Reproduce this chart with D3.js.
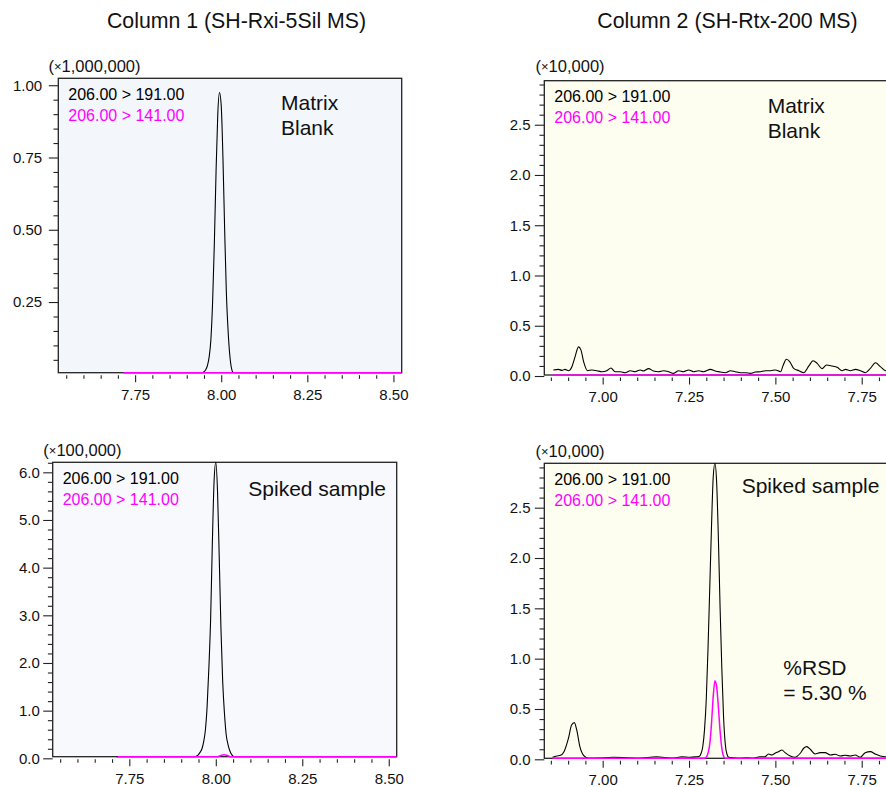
<!DOCTYPE html>
<html><head><meta charset="utf-8">
<script src="https://cdn.jsdelivr.net/npm/d3@7"></script>
<style>
body{margin:0;background:#fff}
svg{display:block}
text{font-family:"Liberation Sans",Arial,Helvetica,sans-serif;fill:#111}
</style>
</head><body>
<svg id="chart" width="886" height="787"></svg>
<script>
// ---------------- DATA ----------------
const columnTitles = ["Column 1 (SH-Rxi-5Sil MS)", "Column 2 (SH-Rtx-200 MS)"];
const transitionLabels = ["206.00 > 191.00", "206.00 > 141.00"];
const multiplierLabels = ["1,000,000", "10,000", "100,000", "10,000"];
const sampleLabels = [["Matrix", "Blank"], ["Matrix", "Blank"], ["Spiked sample"], ["Spiked sample"]];
const rsdLabels = ["%RSD", "= 5.30 %"];

// tick values
const col1XTicks = [7.75, 8.00, 8.25, 8.50];
const col1XMinor = [7.55,7.60,7.65,7.70,7.80,7.85,7.90,7.95,8.05,8.10,8.15,8.20,8.30,8.35,8.40,8.45];
const col2XTicks = [7.00, 7.25, 7.50, 7.75];
const col2XMinor = [6.85,6.90,6.95,7.05,7.10,7.15,7.20,7.30,7.35,7.40,7.45,7.55,7.60,7.65,7.70,7.80];
const blank1YTicks = [0.25, 0.50, 0.75, 1.00];
const blank1YMinor = [0.05,0.10,0.15,0.20,0.30,0.35,0.40,0.45,0.55,0.60,0.65,0.70,0.80,0.85,0.90,0.95];
const spike1YTicks = [0, 1, 2, 3, 4, 5, 6];
const spike1YMinor = [0.2,0.4,0.6,0.8,1.2,1.4,1.6,1.8,2.2,2.4,2.6,2.8,3.2,3.4,3.6,3.8,4.2,4.4,4.6,4.8,5.2,5.4,5.6,5.8,6.2];
const col2YTicks = [0, 0.5, 1.0, 1.5, 2.0, 2.5];
const col2YMinor = [0.1,0.2,0.3,0.4,0.6,0.7,0.8,0.9,1.1,1.2,1.3,1.4,1.6,1.7,1.8,1.9,2.1,2.2,2.3,2.4,2.6,2.7,2.8,2.9];

// traces: [retention time (min), intensity (in axis multiplier units)]
const blank1Q = [[7.716,0.002],[7.80,0.002],[7.90,0.002],[7.935,0.002],[7.940,0.003],[7.945,0.005],[7.950,0.009],[7.955,0.016],[7.960,0.03],[7.965,0.06],[7.970,0.12],[7.975,0.25],[7.980,0.45],[7.985,0.70],[7.990,0.90],[7.995,0.975],[8.000,0.93],[8.005,0.75],[8.010,0.50],[8.015,0.28],[8.020,0.15],[8.025,0.065],[8.030,0.02],[8.035,0.006],[8.040,0.002],[8.10,0.002],[8.30,0.002],[8.524,0.002]];
const blank1R = [[7.716,0.001],[7.90,0.001],[8.00,0.002],[8.10,0.001],[8.30,0.001],[8.524,0.001]];
const spike1Q = [[7.713,0.01],[7.80,0.012],[7.90,0.015],[7.935,0.02],[7.940,0.03],[7.945,0.05],[7.950,0.08],[7.955,0.13],[7.960,0.2],[7.965,0.35],[7.970,0.6],[7.975,1.1],[7.980,1.9],[7.985,2.9],[7.990,4.5],[7.995,5.8],[8.000,6.25],[8.005,5.6],[8.010,4.2],[8.015,2.7],[8.020,1.6],[8.025,0.95],[8.030,0.5],[8.035,0.3],[8.040,0.17],[8.045,0.09],[8.050,0.045],[8.060,0.02],[8.10,0.012],[8.30,0.01],[8.524,0.01]];
const spike1R = [[7.716,0.005],[7.90,0.006],[7.98,0.008],[7.995,0.015],[8.005,0.03],[8.015,0.06],[8.024,0.075],[8.033,0.06],[8.042,0.03],[8.050,0.012],[8.070,0.006],[8.30,0.005],[8.524,0.005]];
const blank2Q = [[6.857,0.06],[6.872,0.066],[6.882,0.056],[6.891,0.066],[6.901,0.053],[6.911,0.093],[6.920,0.19],[6.930,0.29],[6.937,0.26],[6.945,0.14],[6.956,0.053],[6.969,0.06],[6.983,0.053],[6.998,0.043],[7.012,0.053],[7.024,0.08],[7.036,0.043],[7.051,0.043],[7.065,0.033],[7.080,0.053],[7.094,0.043],[7.109,0.06],[7.118,0.05],[7.133,0.073],[7.147,0.05],[7.162,0.043],[7.176,0.053],[7.191,0.043],[7.205,0.026],[7.220,0.053],[7.234,0.043],[7.249,0.06],[7.263,0.043],[7.278,0.053],[7.292,0.043],[7.312,0.066],[7.326,0.05],[7.341,0.04],[7.355,0.033],[7.370,0.053],[7.384,0.043],[7.399,0.033],[7.413,0.033],[7.428,0.026],[7.442,0.04],[7.457,0.043],[7.471,0.053],[7.486,0.053],[7.500,0.06],[7.515,0.043],[7.523,0.11],[7.532,0.166],[7.542,0.14],[7.553,0.076],[7.568,0.053],[7.582,0.033],[7.597,0.10],[7.609,0.152],[7.621,0.126],[7.635,0.073],[7.648,0.11],[7.664,0.10],[7.679,0.086],[7.693,0.053],[7.703,0.066],[7.717,0.053],[7.732,0.066],[7.746,0.053],[7.761,0.033],[7.775,0.076],[7.790,0.132],[7.804,0.093],[7.819,0.053],[7.835,0.05]];
const blank2R = [[6.855,0],[7.10,0],[7.40,0],[7.60,0],[7.835,0]];
const spike2Q = [[6.855,0.02],[6.867,0.033],[6.878,0.04],[6.888,0.076],[6.901,0.21],[6.910,0.34],[6.918,0.364],[6.925,0.29],[6.934,0.126],[6.946,0.033],[6.958,0.01],[6.990,0.012],[7.030,0.02],[7.069,0.016],[7.107,0.01],[7.155,0.026],[7.204,0.01],[7.229,0.026],[7.253,0.02],[7.270,0.025],[7.280,0.03],[7.285,0.06],[7.290,0.13],[7.295,0.3],[7.300,0.6],[7.305,1.1],[7.310,1.7],[7.315,2.3],[7.320,2.8],[7.325,3.05],[7.330,2.75],[7.335,2.2],[7.340,1.5],[7.345,0.9],[7.350,0.42],[7.355,0.15],[7.360,0.05],[7.365,0.02],[7.378,0.016],[7.397,0.01],[7.417,0.016],[7.436,0.01],[7.455,0.026],[7.470,0.026],[7.480,0.053],[7.490,0.043],[7.499,0.06],[7.509,0.076],[7.519,0.093],[7.528,0.066],[7.543,0.033],[7.557,0.02],[7.572,0.06],[7.582,0.11],[7.591,0.126],[7.601,0.10],[7.615,0.053],[7.630,0.066],[7.644,0.066],[7.659,0.043],[7.673,0.05],[7.688,0.033],[7.702,0.04],[7.717,0.033],[7.731,0.043],[7.746,0.02],[7.760,0.066],[7.775,0.076],[7.789,0.053],[7.804,0.033],[7.818,0.026],[7.835,0.03]];
const spike2R = [[6.855,0],[7.100,0],[7.290,0],[7.295,0.005],[7.300,0.02],[7.305,0.06],[7.310,0.15],[7.315,0.35],[7.320,0.62],[7.325,0.78],[7.330,0.72],[7.335,0.52],[7.340,0.28],[7.345,0.11],[7.350,0.03],[7.355,0.008],[7.360,0],[7.600,0],[7.835,0]];

// ---------------- LAYOUT ----------------
const Q_COLOR = "#000000", R_COLOR = "#ff00ff";
const panels = [
  {x0:58.3,x1:401.7,y0:78.3,y1:372.7,xd:[7.527,8.524],yd:[0.0055,1.024],bg:"#f3f6fb",
   xt:col1XTicks,xm:col1XMinor,yt:blank1YTicks,ym:blank1YMinor,yfmt:".2f",ypad:6.6,
   q:blank1Q,r:blank1R,mult:0,multX:48.5,multY:71.7,sample:0,sx:281,sy:110},
  {x0:544.3,x1:889,y0:80.7,y1:375,xd:[6.831,7.829],yd:[0.01,2.938],bg:"#fdfdf0",
   xt:col2XTicks,xm:col2XMinor,yt:col2YTicks,ym:col2YMinor,yfmt:".1f",ypad:4.2,
   q:blank2Q,r:blank2R,mult:1,multX:535.5,multY:71.7,sample:1,sx:767.7,sy:113.3},
  {x0:52.7,x1:396.7,y0:462.3,y1:756.7,xd:[7.5285,8.523],yd:[0.034,6.21],bg:"#f8f9fc",
   xt:col1XTicks,xm:col1XMinor,yt:spike1YTicks,ym:spike1YMinor,yfmt:".1f",ypad:3.4,
   q:spike1Q,r:spike1R,mult:2,multX:43.3,multY:456,sample:2,sx:248.3,sy:495.7},
  {x0:544.3,x1:889,y0:463.3,y1:758.3,xd:[6.831,7.829],yd:[0.01,2.941],bg:"#fefef0",
   xt:col2XTicks,xm:col2XMinor,yt:col2YTicks,ym:col2YMinor,yfmt:".1f",ypad:4.2,
   q:spike2Q,r:spike2R,mult:3,multX:535.5,multY:457,sample:3,sx:741.7,sy:493.3,rsd:true}
];

const svg = d3.select("#chart");

// column titles
svg.selectAll("text.title").data(columnTitles).join("text")
  .attr("class","title")
  .attr("x",(d,i)=> i===0 ? 236.5 : 727.5)
  .attr("y",28)
  .attr("text-anchor","middle")
  .style("font-size","21.3px")
  .text(d=>d);

panels.forEach((p,i)=>{
  const g = svg.append("g");
  const x = d3.scaleLinear().domain(p.xd).range([p.x0,p.x1]);
  const y = d3.scaleLinear().domain(p.yd).range([p.y1,p.y0]).clamp(true);

  // background + frame
  g.append("rect").attr("x",p.x0).attr("y",p.y0).attr("width",p.x1-p.x0).attr("height",p.y1-p.y0)
    .attr("fill",p.bg).attr("stroke","#222").attr("stroke-width",1.3);

  // clip
  const cid = "clip"+i;
  svg.append("clipPath").attr("id",cid).append("rect")
    .attr("x",p.x0).attr("y",p.y0-1).attr("width",p.x1-p.x0).attr("height",p.y1-p.y0+2);

  const line = d3.line().x(d=>x(d[0])).y(d=>y(d[1])).curve(d3.curveMonotoneX);
  const tg = g.append("g").attr("clip-path",`url(#${cid})`);
  tg.append("path").datum(p.q).attr("d",line).attr("fill","none").attr("stroke",Q_COLOR).attr("stroke-width",1.1);
  tg.append("path").datum(p.r).attr("d",line).attr("fill","none").attr("stroke",R_COLOR).attr("stroke-width",1.5);

  // Y axis (major + minor)
  const yAxisScale = d3.scaleLinear().domain(p.yd).range([p.y1,p.y0]);
  const yMajor = g.append("g").attr("transform",`translate(${p.x0},0)`)
    .call(d3.axisLeft(yAxisScale).tickValues(p.yt).tickSize(9.5).tickPadding(p.ypad).tickFormat(d3.format(p.yfmt)));
  const yMinor = g.append("g").attr("transform",`translate(${p.x0},0)`)
    .call(d3.axisLeft(yAxisScale).tickValues(p.ym).tickSize(4.8).tickFormat(""));
  [yMajor,yMinor].forEach(a=>{
    a.select(".domain").remove();
    a.selectAll("line").attr("stroke","#222").attr("stroke-width",1.1);
    a.selectAll("text").style("font-size","15px").attr("fill","#111").style("font-family","'Liberation Sans',Arial,sans-serif");
  });

  // X axis (major + minor)
  const xMajor = g.append("g").attr("transform",`translate(0,${p.y1+2.5})`)
    .call(d3.axisBottom(x).tickValues(p.xt).tickSize(7).tickPadding(6.8).tickFormat(d3.format(".2f")));
  const xMinor = g.append("g").attr("transform",`translate(0,${p.y1+2.5})`)
    .call(d3.axisBottom(x).tickValues(p.xm).tickSize(3.6).tickFormat(""));
  [xMajor,xMinor].forEach(a=>{
    a.select(".domain").remove();
    a.selectAll("line").attr("stroke","#222").attr("stroke-width",1.1);
    a.selectAll("text").style("font-size","15px").attr("fill","#111").style("font-family","'Liberation Sans',Arial,sans-serif");
  });

  // multiplier
  const mt = g.append("text").attr("x",p.multX).attr("y",p.multY).style("font-size","16.5px");
  mt.append("tspan").text("(");
  mt.append("tspan").style("font-size","13px").attr("dy",-1).text("×");
  mt.append("tspan").attr("dy",1).text(multiplierLabels[p.mult]+")");

  // legend
  transitionLabels.forEach((t,k)=>{
    g.append("text").attr("x",p.x0+10).attr("y",p.y0+21.7+k*20.8)
      .style("font-size","16px").style("fill",k===0?Q_COLOR:R_COLOR).text(t);
  });

  // sample label
  sampleLabels[p.sample].forEach((t,k)=>{
    g.append("text").attr("x",p.sx).attr("y",p.sy+k*25).style("font-size","21px").text(t);
  });

  if(p.rsd){
    rsdLabels.forEach((t,k)=>{
      g.append("text").attr("x",783.3).attr("y",675+k*25).style("font-size","21px").text(t);
    });
  }
});
</script>
</body></html>
